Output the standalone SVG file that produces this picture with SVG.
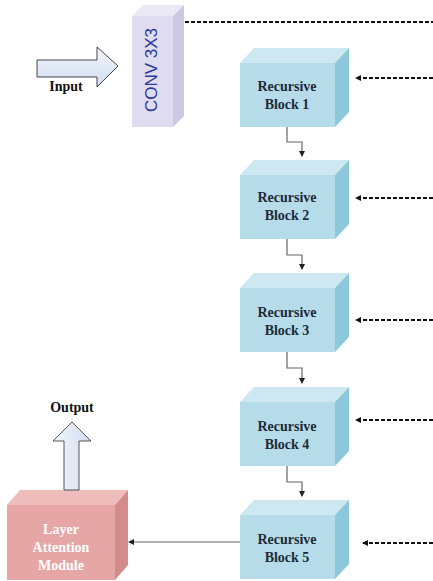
<svg xmlns="http://www.w3.org/2000/svg" width="433" height="581" viewBox="0 0 433 581">
<style>
.bf{fill:#b6dce9}
.bt{fill:#cde8f1}
.br{fill:#8dc7db}
.bl{font-family:"Liberation Serif",serif;font-weight:bold;font-size:14px;fill:#1d2b38;text-anchor:middle}
.lam{font-family:"Liberation Serif",serif;font-weight:bold;font-size:14px;fill:#ffffff;text-anchor:middle}
.lbl{font-family:"Liberation Serif",serif;font-weight:bold;font-size:14px;fill:#111;text-anchor:middle}
.dash{stroke:#111;stroke-width:2;stroke-dasharray:4 2;fill:none}
.con{stroke:#666;stroke-width:1.2;fill:none}
</style>
<defs>
<marker id="ah" markerWidth="6" markerHeight="6" refX="5" refY="3" orient="auto" markerUnits="userSpaceOnUse"><path d="M0,0 L6,3 L0,6 z" fill="#111"/></marker>
<marker id="ahs" markerWidth="6" markerHeight="6" refX="5" refY="3" orient="auto" markerUnits="userSpaceOnUse"><path d="M0,0 L6,3 L0,6 z" fill="#222"/></marker>
<linearGradient id="ag" x1="0" y1="0" x2="0" y2="1"><stop offset="0" stop-color="#f4f7fc"/><stop offset="1" stop-color="#cfdcf0"/></linearGradient>
<linearGradient id="ag2" x1="0" y1="0" x2="1" y2="0"><stop offset="0" stop-color="#f4f7fc"/><stop offset="1" stop-color="#cfdcf0"/></linearGradient>
</defs>

<g id="input">
<path d="M37,60 H97 V47 L118,66 L97,87 V77 H37 Z" fill="url(#ag)" stroke="#444" stroke-width="1"/>
<text class="lbl" x="66" y="91">Input</text>
</g>

<g id="conv">
<polygon points="132,16 143,5 184,5 173,16" fill="#ece9f6"/>
<polygon points="173,16 184,5 184,116 173,127" fill="#cdc7e3"/>
<rect x="132" y="16" width="41" height="111" fill="#e0dcf0"/>
<text x="157" y="70" transform="rotate(-90 157 70)" font-family="Liberation Sans, sans-serif" font-size="17" fill="#2b3a9c" text-anchor="middle">CONV 3X3</text>
</g>

<g id="block1">
<polygon points="240,63 254,48 349,48 335,63" class="bt"/>
<polygon points="335,63 349,48 349,112 335,127" class="br"/>
<rect x="240" y="63" width="95" height="64" class="bf"/>
<text class="bl" x="287" y="91">Recursive</text>
<text class="bl" x="287" y="109">Block 1</text>
</g>
<g id="block2">
<polygon points="240,175 254,160 349,160 335,175" class="bt"/>
<polygon points="335,175 349,160 349,224 335,239" class="br"/>
<rect x="240" y="175" width="95" height="64" class="bf"/>
<text class="bl" x="287" y="202">Recursive</text>
<text class="bl" x="287" y="220">Block 2</text>
</g>
<g id="block3">
<polygon points="240,288 254,273 349,273 335,288" class="bt"/>
<polygon points="335,288 349,273 349,337 335,352" class="br"/>
<rect x="240" y="288" width="95" height="64" class="bf"/>
<text class="bl" x="287" y="317">Recursive</text>
<text class="bl" x="287" y="335">Block 3</text>
</g>
<g id="block4">
<polygon points="240,402 254,387 349,387 335,402" class="bt"/>
<polygon points="335,402 349,387 349,451 335,466" class="br"/>
<rect x="240" y="402" width="95" height="64" class="bf"/>
<text class="bl" x="287" y="431">Recursive</text>
<text class="bl" x="287" y="449">Block 4</text>
</g>
<g id="block5">
<polygon points="240,515 254,500 349,500 335,515" class="bt"/>
<polygon points="335,515 349,500 349,564 335,579" class="br"/>
<rect x="240" y="515" width="95" height="64" class="bf"/>
<text class="bl" x="287" y="544">Recursive</text>
<text class="bl" x="287" y="562">Block 5</text>
</g>

<g id="lam">
<polygon points="7,505 20,490 128,490 115,505" fill="#eebdbb"/>
<polygon points="115,505 128,490 128,565 115,580" fill="#d48b8b"/>
<rect x="7" y="505" width="108" height="75" fill="#e6a6a5"/>
<text class="lam" x="61" y="534">Layer</text>
<text class="lam" x="61" y="552">Attention</text>
<text class="lam" x="61" y="570">Module</text>
</g>

<g id="output">
<path d="M64,490 V441 H53 L72,422 L91,441 H79 V490 Z" fill="url(#ag2)" stroke="#555" stroke-width="1"/>
<text class="lbl" x="72" y="412">Output</text>
</g>

<g id="connectors">
<path class="dash" d="M185,22 H433"/>
<path class="dash" d="M433,78 H356" marker-end="url(#ah)"/>
<path class="dash" d="M433,198 H356" marker-end="url(#ah)"/>
<path class="dash" d="M433,320 H356" marker-end="url(#ah)"/>
<path class="dash" d="M433,420 H356" marker-end="url(#ah)"/>
<path class="dash" d="M433,543 H363" marker-end="url(#ah)"/>
<path class="con" d="M287,127 V142 H302 V156" marker-end="url(#ahs)"/>
<path class="con" d="M287,239 V255 H302 V269" marker-end="url(#ahs)"/>
<path class="con" d="M287,352 V368 H302 V383" marker-end="url(#ahs)"/>
<path class="con" d="M287,466 V482 H302 V496" marker-end="url(#ahs)"/>
<path class="con" d="M240,542 H129" marker-end="url(#ahs)"/>
</g>
</svg>
